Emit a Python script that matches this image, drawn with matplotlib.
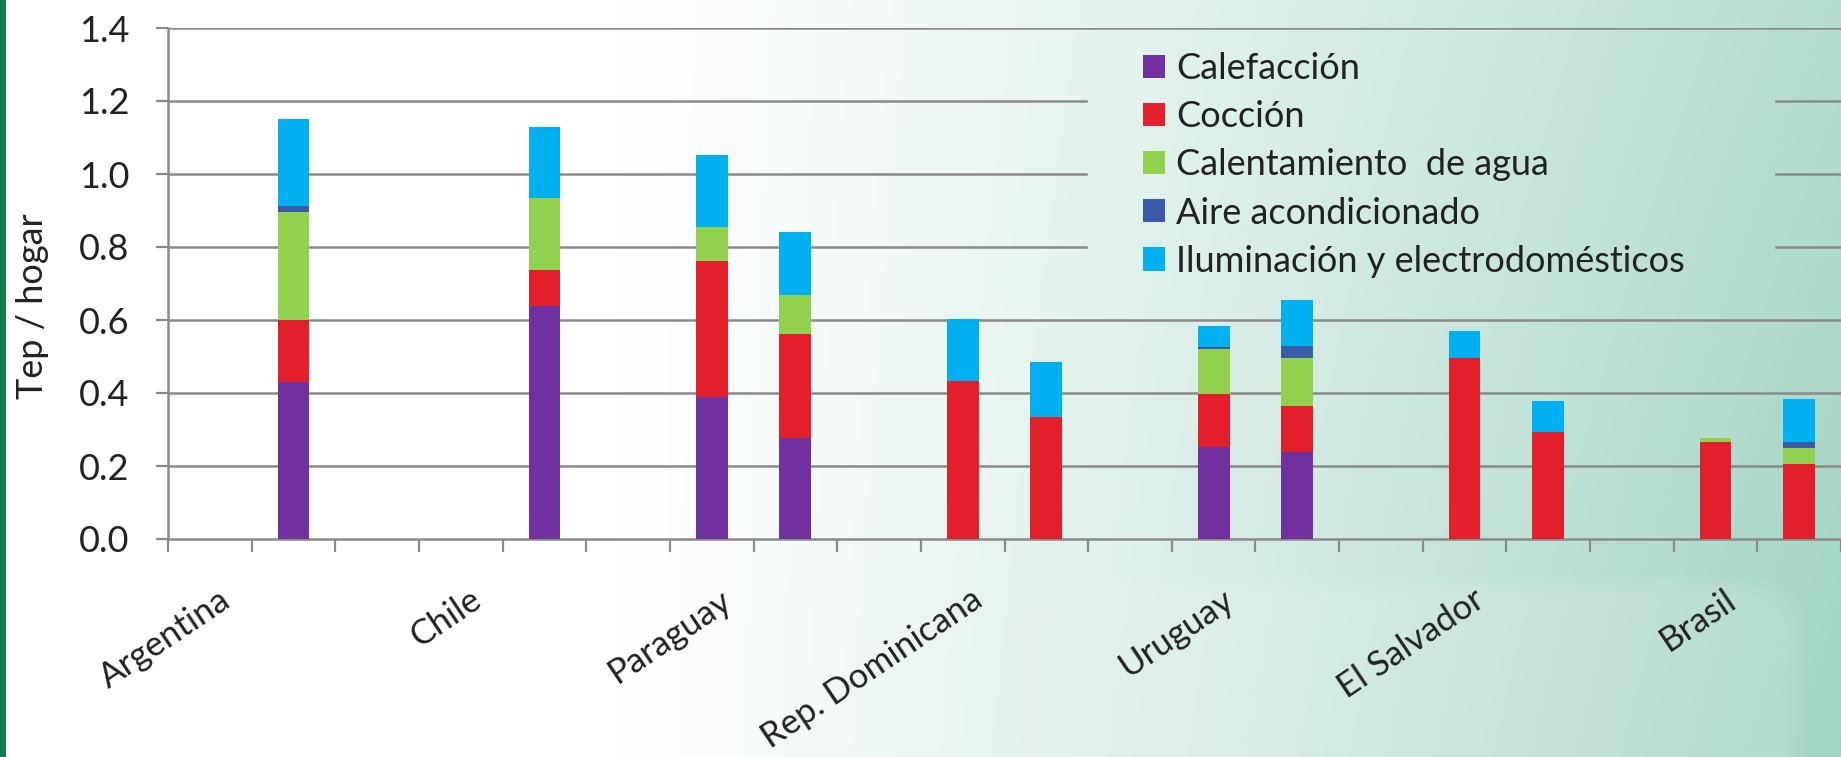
import numpy as np
import matplotlib
matplotlib.use("Agg")
import matplotlib.pyplot as plt
from matplotlib.patches import Rectangle, FancyBboxPatch
from matplotlib.transforms import ScaledTranslation

plt.rcParams['font.family'] = ['Lato', 'DejaVu Sans']

# category slots (3 per country: two bars + a gap), label only on the first
slot_labels = ["Argentina", "", "", "Chile", "", "", "Paraguay", "", "",
               "Rep. Dominicana", "", "", "Uruguay", "", "", "El Salvador", "", "",
               "Brasil", ""]

calefaccion = [0, 0.430, 0, 0, 0.637, 0, 0.388, 0.277, 0, 0, 0, 0,
               0.252, 0.237, 0, 0, 0, 0, 0, 0]
coccion = [0, 0.170, 0, 0, 0.099, 0, 0.374, 0.284, 0, 0.432, 0.335, 0,
           0.144, 0.127, 0, 0.496, 0.293, 0, 0.267, 0.205]
agua = [0, 0.297, 0, 0, 0.198, 0, 0.092, 0.107, 0, 0, 0, 0,
        0.124, 0.132, 0, 0, 0, 0, 0.009, 0.044]
aire = [0, 0.014, 0, 0, 0, 0, 0, 0, 0, 0, 0, 0,
        0.007, 0.034, 0, 0, 0, 0, 0, 0.017]
iluminacion = [0, 0.239, 0, 0, 0.196, 0, 0.197, 0.173, 0, 0.171, 0.149, 0,
               0.057, 0.125, 0, 0.073, 0.085, 0, 0, 0.117]

series_names = ["Calefacción", "Cocción", "Calentamiento  de agua",
                "Aire acondicionado", "Iluminación y electrodomésticos"]
series_colors = ["#7030a0", "#e21f2b", "#92d050", "#3a5ba8", "#00b0f0"]

W, H = 1841, 757
fig = plt.figure(figsize=(W / 100, H / 100), dpi=100)

# background: white on the left fading to a pale teal on the right
bg = fig.add_axes([0, 0, 1, 1])
xs = np.arange(W)
ys = np.arange(H)
t = np.clip((xs - 620) / (W - 620), 0, 1) ** 1.15
v = ys / H
f = t[None, :] * (0.78 + 0.22 * v[:, None])
white = np.array([1.0, 1.0, 1.0])
teal = np.array([0.63, 0.83, 0.76])
img = white[None, None, :] * (1 - f[..., None]) + teal[None, None, :] * f[..., None]
bg.imshow(img, extent=[0, W, H, 0], aspect='auto')
bg.set_xlim(0, W)
bg.set_ylim(H, 0)
bg.axis('off')
# faint ghost shape in the lower right
for k in range(3):
    bg.add_patch(FancyBboxPatch((1005 + 8 * k, 578 + 8 * k), 800 - 16 * k, 260,
                                boxstyle="round,pad=0,rounding_size=50",
                                facecolor='white', edgecolor='none', alpha=0.06))
# dark green strip at the left edge
bg.add_patch(Rectangle((0, 0), 6, H, facecolor='#127a4e', edgecolor='none'))

ax = fig.add_axes([168 / W, (H - 539) / H, (W - 168) / W, (539 - 28) / H])
ax.set_facecolor('none')

x = np.arange(len(slot_labels))
bottom = np.zeros(len(slot_labels))
for vals, name, col in zip([calefaccion, coccion, agua, aire, iluminacion],
                           series_names, series_colors):
    ax.bar(x, vals, width=0.38, bottom=bottom, color=col, label=name, zorder=3)
    bottom += np.array(vals)

ax.set_xlim(-0.5, len(slot_labels) - 0.5)
ax.set_ylim(0, 1.4)

# gridlines, broken where the legend sits
grid_col = '#8a8a8a'
for yv in [0.2, 0.4, 0.6, 1.4]:
    ax.axhline(yv, color=grid_col, lw=1.8, zorder=1)
for yv in [0.8, 1.0, 1.2]:
    ax.axhline(yv, xmin=0, xmax=0.549, color=grid_col, lw=1.8, zorder=1)
    ax.axhline(yv, xmin=0.961, xmax=1, color=grid_col, lw=1.8, zorder=1)

for s in ['top', 'right']:
    ax.spines[s].set_visible(False)
for s in ['left', 'bottom']:
    ax.spines[s].set_color(grid_col)
    ax.spines[s].set_linewidth(1.8)

text_col = '#222222'
ax.set_yticks(np.arange(0, 1.41, 0.2))
ax.set_yticklabels([f"{v:.1f}" for v in np.arange(0, 1.41, 0.2)])
ax.tick_params(axis='y', length=9, width=1.6, color=grid_col, pad=19,
               labelsize=26, labelcolor=text_col)

ax.set_xticks(np.arange(-0.5, len(slot_labels), 1.0), minor=True)
label_pos = [i for i, s in enumerate(slot_labels) if s]
ax.set_xticks(label_pos)
ax.set_xticklabels([slot_labels[i] for i in label_pos], rotation=34, ha='right',
                   va='top', rotation_mode='anchor')
ax.tick_params(axis='x', which='minor', length=9, width=1.6, color=grid_col)
ax.tick_params(axis='x', which='major', length=0, pad=32, labelsize=25,
               labelcolor=text_col)
for lab in ax.get_xticklabels():
    lab.set_transform(lab.get_transform() + ScaledTranslation(0.08, 0, fig.dpi_scale_trans))

ax.set_ylabel("Tep / hogar", fontsize=26, color=text_col)
ax.yaxis.set_label_coords(-0.071, 0.455)

leg = ax.legend(loc='upper left', bbox_to_anchor=(1143 / W, 1 - 52 / H),
                bbox_transform=fig.transFigure, frameon=False, fontsize=26,
                handlelength=0.62, handleheight=0.62, handletextpad=0.3,
                labelspacing=0.42, borderpad=0, borderaxespad=0)
for txt in leg.get_texts():
    txt.set_color(text_col)

fig.savefig("out.png", dpi=100)
